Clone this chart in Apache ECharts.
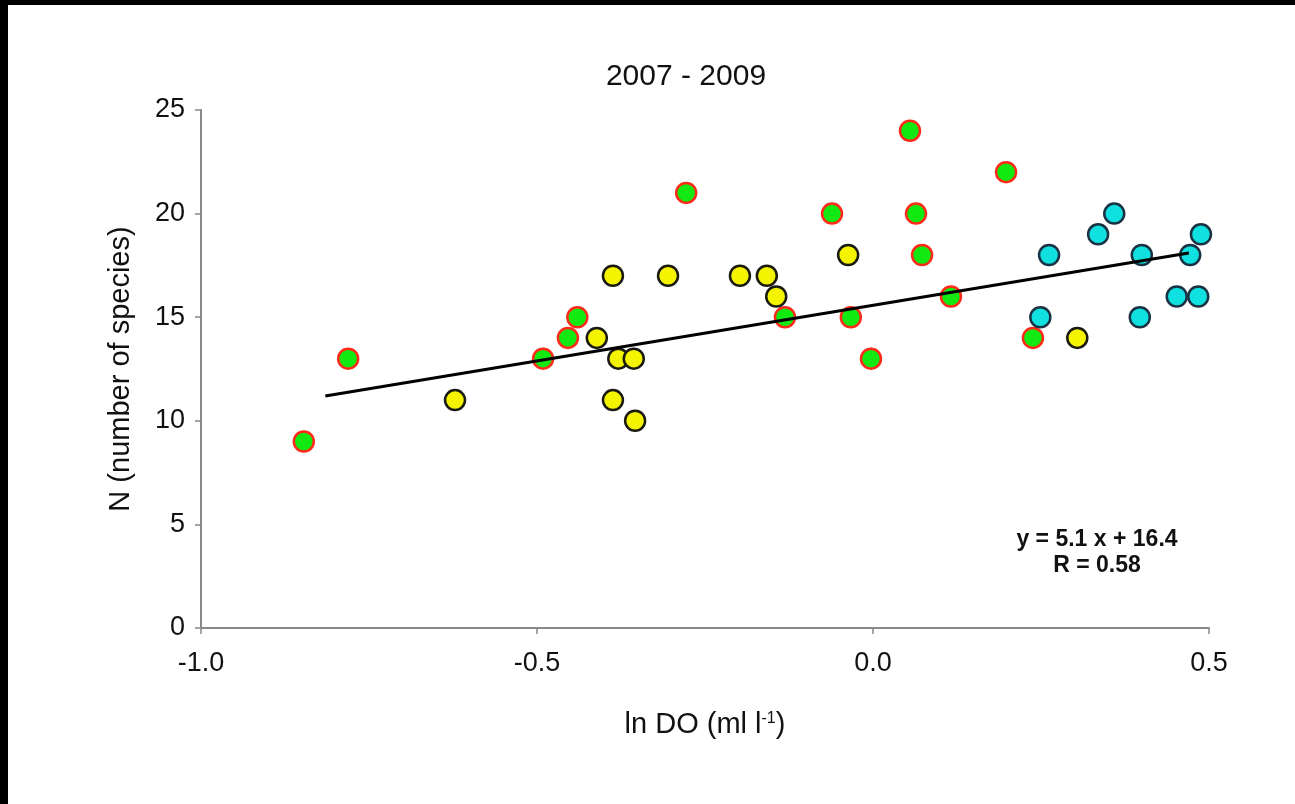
<!DOCTYPE html>
<html>
<head>
<meta charset="utf-8">
<script src="https://cdn.jsdelivr.net/npm/echarts@6/dist/echarts.min.js"></script>
<style>
  html, body { margin: 0; padding: 0; background: #fff; }
  #frame {
    width: 1287px;
    height: 799px;
    border-left: 8px solid #000;
    border-top: 5px solid #000;
  }
  #chart { width: 1287px; height: 799px; }
</style>
</head>
<body>
<div id="frame"><div id="chart"></div></div>
<script>
// points per group: [ln DO, N]
var greenPoints = [
  [-0.847, 9], [-0.781, 13], [-0.491, 13], [-0.454, 14], [-0.440, 15],
  [-0.278, 21], [-0.131, 15], [-0.061, 20], [-0.033, 15], [-0.003, 13],
  [0.055, 24], [0.064, 20], [0.073, 18], [0.116, 16], [0.198, 22], [0.238, 14]
]
var yellowPoints = [
  [-0.622, 11], [-0.411, 14], [-0.387, 17], [-0.379, 13], [-0.356, 13],
  [-0.387, 11], [-0.354, 10], [-0.305, 17], [-0.198, 17], [-0.158, 17],
  [-0.144, 16], [-0.037, 18], [0.304, 14]
]
var cyanPoints = [
  [0.249, 15], [0.262, 18], [0.335, 19], [0.359, 20], [0.397, 15],
  [0.400, 18], [0.452, 16], [0.472, 18], [0.484, 16], [0.488, 19]
]
// fitted line ends as drawn
var trendLine = [[-0.815, 11.2], [0.47, 18.1]]
var xTicks = [-1.0, -0.5, 0.0, 0.5]
var yTicks = [0, 5, 10, 15, 20, 25]
var fitText = ['y = 5.1 x + 16.4', 'R = 0.58']

var font = 'Liberation Sans, Arial, sans-serif'

var myChart = echarts.init(document.getElementById('chart'))

function pointSeries (data, fill, border) {
  return {
    type: 'scatter',
    data: data,
    symbolSize: 20,
    z: 3,
    itemStyle: {
      color: fill,
      borderColor: border,
      borderWidth: 2.5,
      opacity: 1
    }
  }
}

myChart.setOption({
  backgroundColor: '#fff',
  animation: false,
  title: {
    text: '2007 - 2009',
    left: 673,
    top: 52,
    textAlign: 'center',
    textStyle: { fontFamily: font, fontSize: 30, fontWeight: 'normal', color: '#111' }
  },
  grid: {
    left: 193,
    right: 86,
    top: 105,
    bottom: 176
  },
  xAxis: {
    type: 'value',
    min: xTicks[0],
    max: xTicks[xTicks.length - 1],
    interval: 0.5,
    name: '{a|ln DO (ml l}{s|-1}{a|)}',
    nameLocation: 'middle',
    nameGap: 82,
    nameTextStyle: {
      rich: {
        a: { fontFamily: font, fontSize: 29, color: '#111' },
        s: { fontFamily: font, fontSize: 16, color: '#111', padding: [0, 0, 12, 0] }
      }
    },
    axisLine: { onZero: false, lineStyle: { color: '#888', width: 2 } },
    axisTick: { show: true, length: 6, lineStyle: { color: '#888', width: 1.5 } },
    splitLine: { show: false },
    axisLabel: {
      margin: 22,
      fontFamily: font,
      fontSize: 27,
      color: '#111',
      formatter: function (v) { return v.toFixed(1) }
    }
  },
  yAxis: {
    type: 'value',
    min: yTicks[0],
    max: yTicks[yTicks.length - 1],
    interval: 5,
    name: 'N (number of species)',
    nameLocation: 'middle',
    nameGap: 66,
    nameTextStyle: { fontFamily: font, fontSize: 29, color: '#111' },
    axisLine: { show: true, onZero: false, lineStyle: { color: '#888', width: 2 } },
    axisTick: { show: true, length: 6, lineStyle: { color: '#888', width: 1.5 } },
    splitLine: { show: false },
    axisLabel: { margin: 16, fontFamily: font, fontSize: 27, color: '#111' }
  },
  series: [
    pointSeries(greenPoints, '#12e812', '#ff2a1a'),
    pointSeries(yellowPoints, '#f4f400', '#1a1a10'),
    pointSeries(cyanPoints, '#10e0e0', '#1a3344'),
    {
      type: 'line',
      data: trendLine,
      symbol: 'none',
      z: 4,
      lineStyle: { color: '#000', width: 3 }
    }
  ],
  graphic: [{
    type: 'text',
    x: 1089,
    y: 548,
    style: {
      text: fitText.join('\n'),
      align: 'center',
      verticalAlign: 'middle',
      lineHeight: 26,
      font: 'bold 23px Liberation Sans, Arial, sans-serif',
      fill: '#111'
    }
  }]
})
</script>
</body>
</html>
